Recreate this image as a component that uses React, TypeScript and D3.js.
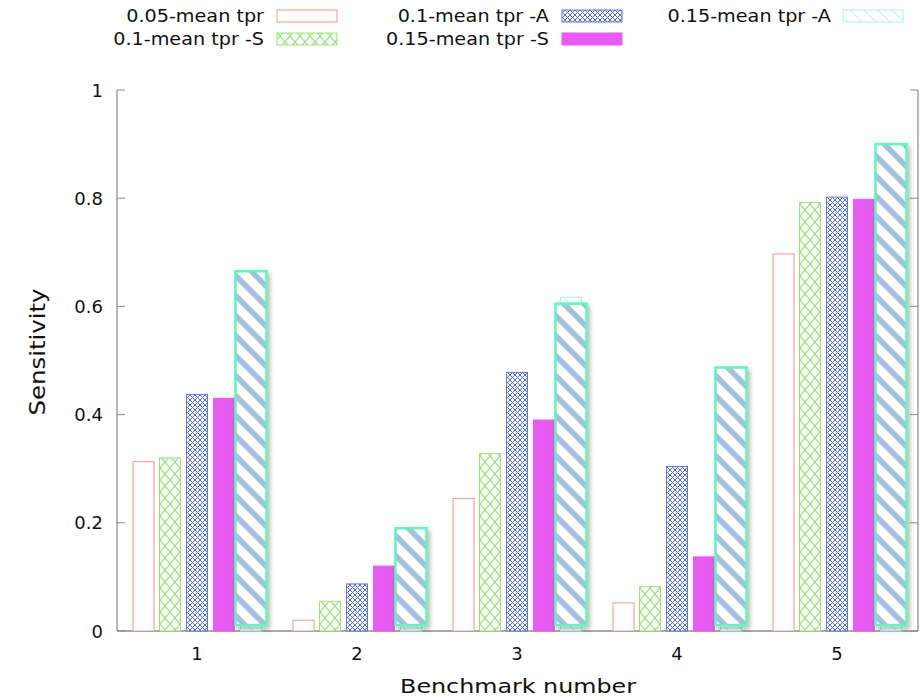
import React, { useEffect } from "react";
import * as d3 from "d3";

const categories = ["1", "2", "3", "4", "5"];
const seriesNames = ["0.05-mean tpr", "0.1-mean tpr -S", "0.1-mean tpr -A", "0.15-mean tpr -S", "0.15-mean tpr -A"];
const tpr005 = [0.313, 0.02, 0.245, 0.052, 0.697];
const tpr01S = [0.32, 0.055, 0.328, 0.082, 0.792];
const tpr01A = [0.437, 0.087, 0.478, 0.304, 0.802];
const tpr015S = [0.43, 0.12, 0.39, 0.137, 0.798];
const tpr015A = [0.665, 0.19, 0.617, 0.487, 0.9];
const highlightTop = [0.665, 0.19, 0.605, 0.487, 0.9];
const highlightBase = 0.011;
const yTicks = [0, 0.2, 0.4, 0.6, 0.8, 1];

const W = 924, H = 700;
const left = 117, right = 918, top = 90, bottom = 631;

function T({ x, y, sx = 1, anchor = "start", size, rotate = 0, children }: any) {
  return (
    <text
      transform={`translate(${x},${y}) rotate(${rotate}) scale(${sx},1)`}
      textAnchor={anchor}
      fontSize={size}
      fill="#111"
    >
      {children}
    </text>
  );
}

export default function App() {
  useEffect(() => {
    document.body.style.margin = "0";
  }, []);
  const x = d3.scaleLinear().domain([0.5, 5.5]).range([left, left + 800]);
  const y = d3.scaleLinear().domain([0, 1]).range([bottom, top]);
  const all = [tpr005, tpr01S, tpr01A, tpr015S, tpr015A];
  const offsets = [-53.5, -27, 0, 27, 54];
  const bw = 21;
  const fills = ["#ffffff", "url(#pGreen)", "url(#pBlue)", "#e65cf2", "url(#pCyan)"];
  const strokes = ["#ee9a8c", "#9ae37a", "#5a78e0", "#e65cf2", "#a8f2f2"];
  const font = "DejaVu Sans, sans-serif";

  const legendItems = [
    { name: seriesNames[0], tx: 264, ty: 16, s: 0 },
    { name: seriesNames[1], tx: 264, ty: 39, s: 1 },
    { name: seriesNames[2], tx: 549, ty: 16, s: 2 },
    { name: seriesNames[3], tx: 549, ty: 39, s: 3 },
    { name: seriesNames[4], tx: 831, ty: 16, s: 4 },
  ];
  const sampleX = [277, 277, 562, 562, 843];

  return (
    <svg width={W} height={H} style={{ display: "block", background: "#fff" }} fontFamily={font}>
      <defs>
        <pattern id="pGreen" patternUnits="userSpaceOnUse" width="10" height="12">
          <rect width="10" height="12" fill="#fff" />
          <path d="M0,0 L10,12 M10,0 L0,12" stroke="#9ae37a" strokeWidth="1.2" />
        </pattern>
        <pattern id="pBlue" patternUnits="userSpaceOnUse" width="5" height="5">
          <rect width="5" height="5" fill="#fff" />
          <path d="M0,0 L5,5 M5,0 L0,5" stroke="#4d6ae0" strokeWidth="1" />
        </pattern>
        <pattern id="pCyan" patternUnits="userSpaceOnUse" width="14" height="14">
          <rect width="14" height="14" fill="#fff" />
          <path d="M0,0 L14,14 M-7,7 L7,21 M7,-7 L21,7" stroke="#a8f2f2" strokeWidth="1" />
        </pattern>
        <pattern id="pStripe" patternUnits="userSpaceOnUse" width="20" height="20">
          <rect width="20" height="20" fill="#fff" />
          <path d="M0,0 L20,20 M-10,10 L10,30 M10,-10 L30,10 M-10,-10 L10,10 M10,10 L30,30" stroke="#a3c1dc" strokeWidth="5.5" />
        </pattern>
        <filter id="shadow" x="-30%" y="-10%" width="160%" height="120%">
          <feDropShadow dx="2" dy="3" stdDeviation="2.5" floodColor="#000" floodOpacity="0.3" />
        </filter>
      </defs>

      {/* axes frame */}
      <line x1={left} y1={top} x2={left} y2={bottom} stroke="#888" strokeWidth={1.2} />
      <line x1={right} y1={top} x2={right} y2={bottom} stroke="#888" strokeWidth={1.2} />
      <line x1={left} y1={bottom} x2={right} y2={bottom} stroke="#555" strokeWidth={1.2} />
      {yTicks.map((t) => (
        <g key={t}>
          <line x1={left} x2={left + 8} y1={y(t)} y2={y(t)} stroke="#888" />
          <line x1={right} x2={right - 8} y1={y(t)} y2={y(t)} stroke="#888" />
          <T x={left - 14} y={y(t) + 6.5} anchor="end" size={18}>
            {d3.format("")(t)}
          </T>
        </g>
      ))}
      {categories.map((c, i) => (
        <g key={c}>
          <line x1={x(i + 1)} x2={x(i + 1)} y1={bottom} y2={bottom - 6} stroke="#888" />
          <T x={x(i + 1)} y={bottom + 29} anchor="middle" size={18}>{c}</T>
        </g>
      ))}

      {/* bars */}
      {all.map((vals, s) =>
        vals.map((v, i) => (
          <rect
            key={`${s}-${i}`}
            x={x(i + 1) + offsets[s] - bw / 2}
            y={y(v)}
            width={bw}
            height={y(0) - y(v)}
            fill={fills[s]}
            stroke={strokes[s]}
            strokeWidth={1}
          />
        ))
      )}

      {/* highlight overlay */}
      {highlightTop.map((v, i) => (
        <rect
          key={`h${i}`}
          x={x(i + 1) + offsets[4] - 15.5}
          y={y(v)}
          width={31}
          height={y(highlightBase) - y(v)}
          fill="url(#pStripe)"
          stroke="#62f5bc"
          strokeWidth={2.5}
          filter="url(#shadow)"
        />
      ))}

      {/* axis titles */}
      <T x={518} y={693} anchor="middle" size={20} sx={1.19}>Benchmark number</T>
      <T x={45} y={352} anchor="middle" size={20.5} sx={1.19} rotate={-90}>Sensitivity</T>

      {/* legend */}
      {legendItems.map((it) => (
        <g key={it.name}>
          <T x={it.tx} y={it.ty + 6} anchor="end" size={17} sx={1.13}>{it.name}</T>
          <rect x={sampleX[it.s]} y={it.ty - 6} width={60} height={12} fill={fills[it.s]} stroke={strokes[it.s]} strokeWidth={1} />
        </g>
      ))}
    </svg>
  );
}
